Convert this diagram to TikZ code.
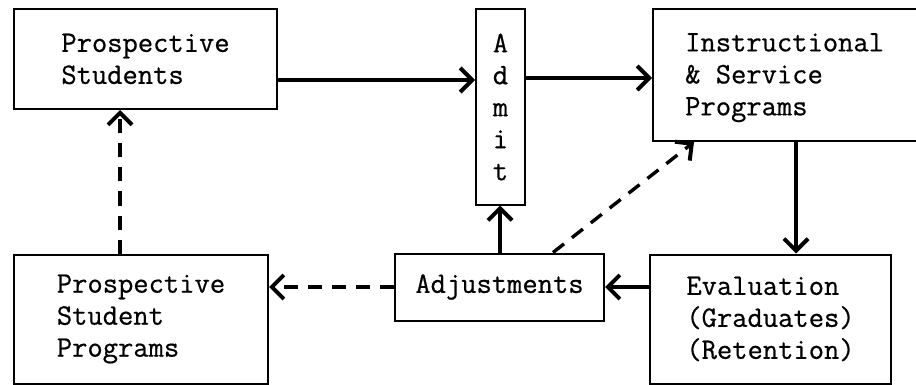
\documentclass[tikz,border=0pt]{standalone}
\usepackage{fontspec}
\setmonofont[FakeBold=0.6]{Latin Modern Mono}
\usetikzlibrary{arrows.meta}
\begin{document}
\begin{tikzpicture}[x=1pt,y=-1pt,
  txt/.style={font=\fontsize{29.7}{32}\selectfont\ttfamily},
  box/.style={draw,line width=2pt,rectangle,inner sep=0pt,align=left,txt},
  flow/.style={line width=4.2pt,-{Straight Barb[length=12pt,width=24pt,line width=4pt]}},
  dflow/.style={flow,line width=3.4pt,dash pattern=on 14pt off 10pt}]
\useasboundingbox (0,0) rectangle (916,385);
\clip (0,0) rectangle (916,385);
\node[box,minimum width=263pt,minimum height=100pt] (ps) at (145.5,59) {Prospective\\Students};
\node[box,minimum width=49pt,minimum height=195pt,align=center] (admit) at (500.5,107) {A\\d\\m\\i\\t};
\node[box,minimum width=273pt,minimum height=132pt,anchor=north west] (instr) at (652,8) {};
\node[txt,align=left,anchor=north west,inner sep=0pt] (instrtext) at (685,33) {Instructional\\\&~Service\\Programs};
\node[box,minimum width=254pt,minimum height=129pt] (psp) at (141,319) {Prospective\\Student\\Programs};
\node[box,minimum width=209pt,minimum height=67pt] (adj) at (499.5,287) {Adjustments};
\node[box,minimum width=241pt,minimum height=129pt] (eval) at (770.5,319) {Evaluation\\(Graduates)\\(Retention)};
% connectors
\draw[flow] (ps.east |- 0,80) -- (admit.west |- 0,80);
\draw[flow] (admit.east |- 0,78) -- (instr.west |- 0,78);
\draw[flow] (instr.south -| 796,0) -- (eval.north -| 796,0);
\draw[flow] (eval.west |- 0,287) -- (adj.east |- 0,287);
\draw[flow] (adj.north -| 500,0) -- (admit.south -| 500,0);
\draw[dflow] (adj.north -| 553,0) -- (instr.south -| 694,0);
\draw[dflow] (adj.west |- 0,287) -- (psp.east |- 0,287);
\draw[dflow] (psp.north -| 120,0) -- (ps.south -| 120,0);
\end{tikzpicture}
\end{document}
